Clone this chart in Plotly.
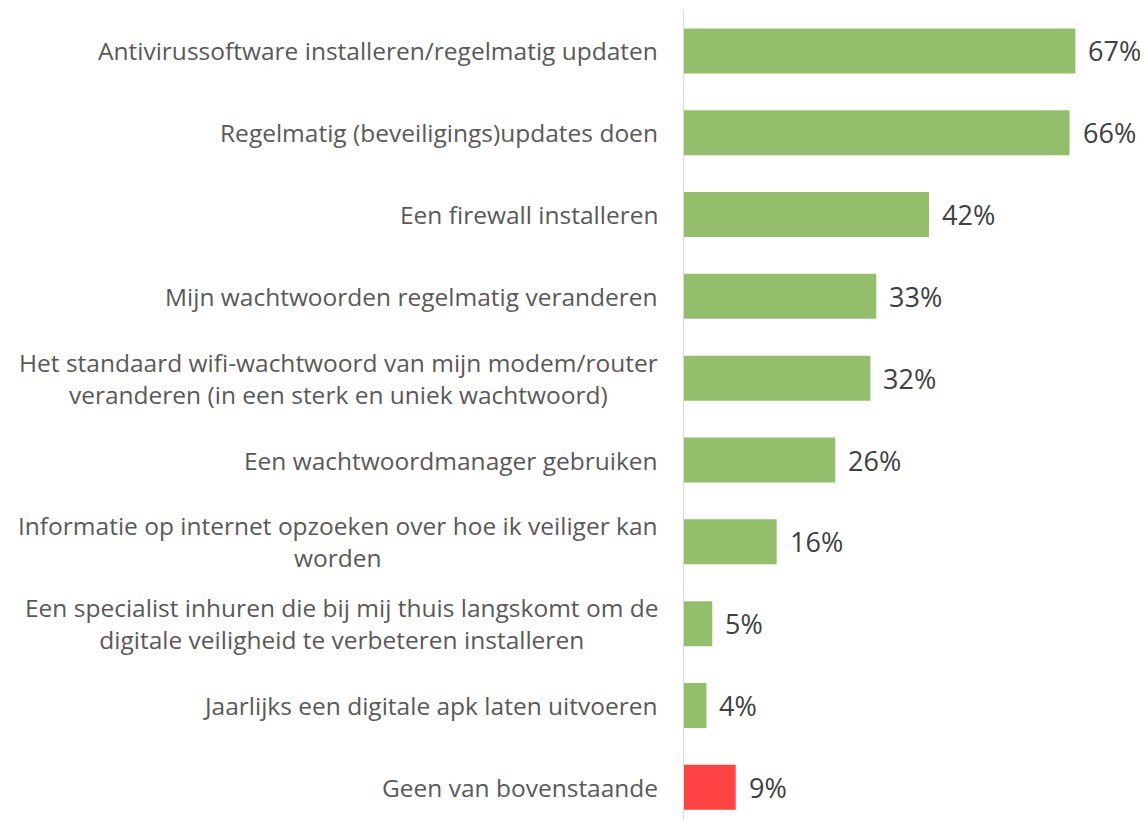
import plotly.graph_objects as go

categories = [
    "Antivirussoftware installeren/regelmatig updaten",
    "Regelmatig (beveiligings)updates doen",
    "Een firewall installeren",
    "Mijn wachtwoorden regelmatig veranderen",
    "Het standaard wifi-wachtwoord van mijn modem/router<br>veranderen (in een sterk en uniek wachtwoord)",
    "Een wachtwoordmanager gebruiken",
    "Informatie op internet opzoeken over hoe ik veiliger kan<br>worden",
    "Een specialist inhuren die bij mij thuis langskomt om de<br>digitale veiligheid te verbeteren installeren",
    "Jaarlijks een digitale apk laten uitvoeren",
    "Geen van bovenstaande",
]
values = [67, 66, 42, 33, 32, 26, 16, 5, 4, 9]
colors = ["#93BF6D"] * 9 + ["#FF4343"]

idx = list(range(len(categories)))

LABEL_FONT = dict(family="Open Sans", size=24.5, color="#595959")

fig = go.Figure()
fig.add_trace(go.Bar(
    x=values, y=idx, orientation="h",
    marker=dict(color=colors, line=dict(width=0)),
    width=0.55, hoverinfo="skip",
))

annotations = []
for i, (c, v) in enumerate(zip(categories, values)):
    annotations.append(dict(
        x=0, y=i, xref="x", yref="y", text=c, showarrow=False,
        xanchor="right", yanchor="middle", align="center", xshift=-23,
        font=LABEL_FONT,
    ))
    annotations.append(dict(
        x=v, y=i, xref="x", yref="y", text=f"{v}%", showarrow=False,
        xanchor="left", yanchor="middle", xshift=11,
        font=dict(family="Open Sans", size=27, color="#404040"),
    ))

fig.update_layout(
    width=1140, height=812,
    margin=dict(l=675, r=0, t=2, b=0),
    paper_bgcolor="white", plot_bgcolor="white",
    showlegend=False,
    annotations=annotations,
    xaxis=dict(range=[0, 79.4], visible=False, fixedrange=True),
    yaxis=dict(range=[9.4, -0.5], showticklabels=False, showgrid=False,
               zeroline=False, showline=False, ticks=""),
    shapes=[dict(type="line", xref="x", yref="paper", x0=0, x1=0, y0=0, y1=1,
                 line=dict(color="#D9D9D9", width=2))],
)

fig.write_html("out.html")
